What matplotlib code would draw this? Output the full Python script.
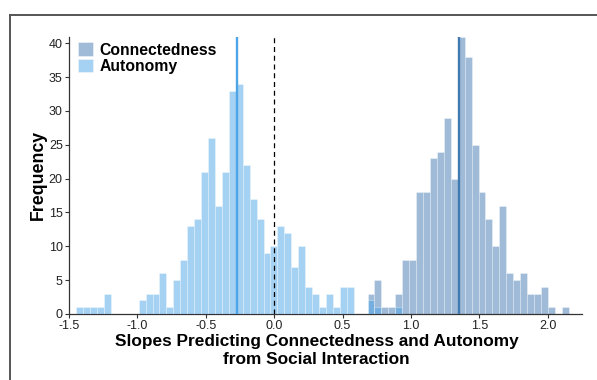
import numpy as np
import matplotlib
matplotlib.use("Agg")
import matplotlib.pyplot as plt
from matplotlib.patches import Patch
from matplotlib.lines import Line2D

# ---- data ----
bin_start = -1.447
bin_width = 0.0507
autonomy_counts = [1, 1, 1, 1, 3, 0, 0, 0, 0, 2,
                   3, 3, 6, 1, 5, 8, 13, 14, 21, 26,
                   16, 21, 33, 34, 22, 17, 14, 9, 10, 13,
                   12, 7, 10, 4, 3, 1, 3, 1, 4, 4,
                   0, 0, 2, 1, 0, 0, 1, 0, 0, 0,
                   0, 0, 0, 0, 0, 0, 0, 0, 0, 0,
                   0, 0, 0, 0, 0, 0, 0, 0, 0, 0, 0]
connectedness_counts = [0] * 42 + [3, 5, 1, 1, 3, 8, 8, 18, 18, 23,
                                   24, 29, 20, 41, 38, 25, 18, 14, 10, 16,
                                   6, 5, 6, 3, 3, 4, 1, 0, 1]
autonomy_mean = -0.274
connectedness_mean = 1.354
series_names = ["Connectedness", "Autonomy"]
x_ticks = [-1.5, -1.0, -0.5, 0.0, 0.5, 1.0, 1.5, 2.0]
y_ticks = [0, 5, 10, 15, 20, 25, 30, 35, 40]

conn_color = "#4179B1"
auto_color = "#4DA5E7"

plt.rcParams["font.family"] = ["Liberation Sans", "DejaVu Sans"]

fig = plt.figure(figsize=(5.97, 3.80), dpi=100)
W, H = 597, 380
ax = fig.add_axes([69 / W, 1 - 314 / H, (582 - 69) / W, (314 - 36.5) / H])

n = len(autonomy_counts)
centers = bin_start + bin_width * (np.arange(n) + 0.5)

edge = (1, 1, 1, 0.55)
ax.bar(centers, connectedness_counts, width=bin_width,
       color=matplotlib.colors.to_rgba(conn_color, 0.5), edgecolor=edge, linewidth=0.4, zorder=2)
ax.bar(centers, autonomy_counts, width=bin_width,
       color=matplotlib.colors.to_rgba(auto_color, 0.5), edgecolor=edge, linewidth=0.4, zorder=3)

ax.axvline(connectedness_mean, color=conn_color, lw=1.7, zorder=4)
ax.axvline(autonomy_mean, color=auto_color, lw=1.7, zorder=4)
ax.axvline(0, color="black", lw=0.9, ls=(0, (4, 3)), zorder=4)

ax.set_xlim(-1.5, 2.25)
ax.set_ylim(0, 41)
ax.set_xticks(x_ticks)
ax.set_xticklabels([f"{t:.1f}" for t in x_ticks])
ax.set_yticks(y_ticks)
ax.tick_params(axis="both", length=3, width=0.8, color="#333333",
               labelsize=9, labelcolor="#222222", pad=1.5)

for s in ["top", "right"]:
    ax.spines[s].set_visible(False)
for s in ["left", "bottom"]:
    ax.spines[s].set_color("#333333")
    ax.spines[s].set_linewidth(0.9)

ax.set_ylabel("Frequency", fontsize=12.8, fontweight="bold")
ax.yaxis.set_label_coords(-0.043, 0.5)
ax.set_xlabel("Slopes Predicting Connectedness and Autonomy\nfrom Social Interaction",
              fontsize=12.4, fontweight="bold", linespacing=1.25)
ax.xaxis.set_label_coords(0.483, -0.072)
ax.xaxis.label.set_va("top")

handles = [Patch(facecolor=matplotlib.colors.to_rgba(conn_color, 0.5), edgecolor=edge, linewidth=0.5),
           Patch(facecolor=matplotlib.colors.to_rgba(auto_color, 0.5), edgecolor=edge, linewidth=0.5)]
leg = ax.legend(handles, series_names, loc="upper left", bbox_to_anchor=(0.012, 0.99),
                frameon=False, prop={"weight": "bold", "size": 11.3},
                handlelength=0.95, handleheight=0.95, handletextpad=0.42,
                labelspacing=0.08, borderpad=0.2, borderaxespad=0.0)

# outer frame (partially visible border)
fig.add_artist(Line2D([10 / W, 1.0], [1 - 15 / H, 1 - 15 / H], color="#555555", lw=1.4,
                      transform=fig.transFigure))
fig.add_artist(Line2D([10 / W, 10 / W], [0, 1 - 15 / H], color="#555555", lw=1.4,
                      transform=fig.transFigure))

fig.savefig("out.png", dpi=100)
